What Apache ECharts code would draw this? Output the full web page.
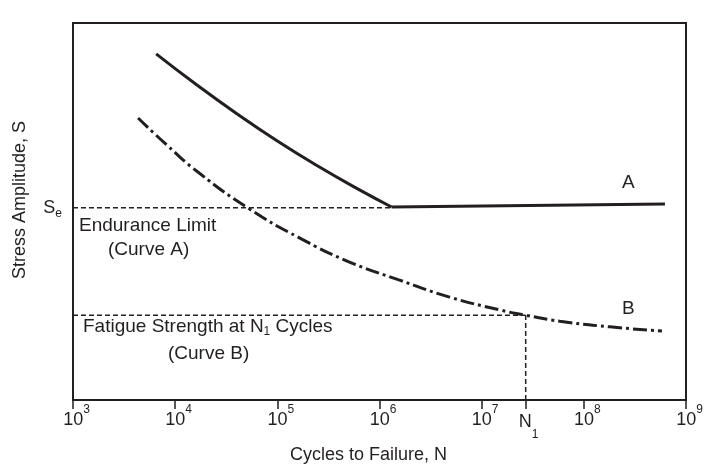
<!DOCTYPE html>
<html><head><meta charset="utf-8">
<script src="https://cdn.jsdelivr.net/npm/echarts@6/dist/echarts.min.js"></script>
<style>html,body{margin:0;padding:0;background:#fff}#c{width:705px;height:464px}</style>
</head><body><div id="c"></div>
<script>
// x values are log10(N), y values are stress amplitude on an arbitrary 0-100 scale
const xTickExponents = [3, 4, 5, 6, 7, 8, 9];
const N1_LOG = 7.431;
const SE_LEVEL = 51.0;
const FATIGUE_LEVEL = 22.5;

const curveA_logN = [3.814, 4.2, 4.6, 5.0, 5.4, 5.8, 6.118];
const curveA_S    = [91.8, 83.8, 76.0, 68.7, 62.0, 55.8, 51.2];
const curveAflat_logN = [6.118, 8.794];
const curveAflat_S    = [51.2, 52.0];

const curveB_logN = [3.637, 3.912, 4.235, 4.725, 5.216, 5.706, 6.196, 6.686, 7.176, 7.431, 7.765, 8.255, 8.765];
const curveB_S    = [74.8, 67.8, 60.2, 50.7, 43.0, 36.6, 31.8, 27.3, 23.9, 22.5, 20.9, 19.4, 18.3];

const INK = '#231f20';
const FONT = '"Liberation Sans", Arial, sans-serif';
const zip = (a, b) => a.map((v, i) => [v, b[i]]);

const chart = echarts.init(document.getElementById('c'), null, {renderer: 'canvas'});
const tickVals = xTickExponents.slice(0, 5).concat([N1_LOG], xTickExponents.slice(5));

chart.setOption({
  backgroundColor: '#ffffff',
  animation: false,
  textStyle: {fontFamily: FONT, color: INK},
  grid: {left: 73, right: 19, top: 23, bottom: 64, show: true, borderColor: INK, borderWidth: 2,
         backgroundColor: 'transparent', containLabel: false, outerBoundsMode: 'none'},
  xAxis: {
    type: 'value', min: 3, max: 9, interval: 1,
    name: 'Cycles to Failure, N', nameLocation: 'middle', nameGap: 46,
    nameTextStyle: {fontSize: 18, color: INK, fontFamily: FONT, padding: [0, 22, 0, 0]},
    axisLine: {show: true, lineStyle: {color: INK, width: 2}},
    axisTick: {show: true, length: 9, lineStyle: {color: INK, width: 1.5}, customValues: tickVals},
    splitLine: {show: false},
    axisLabel: {
      margin: 4, customValues: tickVals, color: INK, fontFamily: FONT,
      formatter: function (v) {
        if (Math.abs(v - N1_LOG) < 1e-6) return '{n|N}{nsub|1}';
        return '{b|10}{sup|' + Math.round(v) + '}';
      },
      rich: {
        b: {fontSize: 18, lineHeight: 32, fontFamily: FONT, color: INK, padding: [0, 0, 0, 7]},
        sup: {fontSize: 12, lineHeight: 12, verticalAlign: 'top', fontFamily: FONT, color: INK},
        n: {fontSize: 18, lineHeight: 37, fontFamily: FONT, color: INK, padding: [0, 0, 0, 6]},
        nsub: {fontSize: 12, lineHeight: 12, verticalAlign: 'bottom', fontFamily: FONT, color: INK}
      }
    }
  },
  yAxis: {
    type: 'value', min: 0, max: 100,
    name: 'Stress Amplitude, S', nameLocation: 'middle', nameGap: 44, nameRotate: 90,
    nameTextStyle: {fontSize: 18, color: INK, fontFamily: FONT, padding: [0, 0, 0, 23]},
    axisLine: {show: true, lineStyle: {color: INK, width: 2}},
    axisTick: {show: false},
    splitLine: {show: false},
    axisLabel: {
      margin: 11, customValues: [SE_LEVEL], color: INK,
      formatter: function () { return '{s|S}{e|e}'; },
      rich: {
        s: {fontSize: 18, lineHeight: 24, fontFamily: FONT, color: INK},
        e: {fontSize: 12, lineHeight: 12, verticalAlign: 'bottom', fontFamily: FONT, color: INK}
      }
    }
  },
  series: [
    {type: 'line', name: 'A', data: zip(curveA_logN, curveA_S), smooth: true, showSymbol: false, silent: true,
     lineStyle: {color: INK, width: 3}},
    {type: 'line', name: 'A flat', data: zip(curveAflat_logN, curveAflat_S), showSymbol: false, silent: true,
     lineStyle: {color: INK, width: 3}},
    {type: 'line', name: 'B', data: zip(curveB_logN, curveB_S), smooth: true, showSymbol: false, silent: true,
     lineStyle: {color: INK, width: 3, type: [14, 4, 3, 4]}},
    {type: 'line', name: 'Se', data: [[3, SE_LEVEL], [curveA_logN[curveA_logN.length - 1], SE_LEVEL]], showSymbol: false, silent: true,
     lineStyle: {color: INK, width: 1.5, type: [5, 3]}},
    {type: 'line', name: 'Fatigue', data: [[3, FATIGUE_LEVEL], [N1_LOG, FATIGUE_LEVEL]], showSymbol: false, silent: true,
     lineStyle: {color: INK, width: 1.5, type: [5, 3]}},
    {type: 'line', name: 'N1', data: [[N1_LOG, 0], [N1_LOG, FATIGUE_LEVEL]], showSymbol: false, silent: true,
     lineStyle: {color: INK, width: 1.5, type: [5, 3]}}
  ],
  graphic: [
    {type: 'text', left: 622, top: 173, style: {text: 'A', fontSize: 19, fontFamily: FONT, fill: INK}},
    {type: 'text', left: 622, top: 299, style: {text: 'B', fontSize: 19, fontFamily: FONT, fill: INK}},
    {type: 'text', left: 79, top: 216, style: {text: 'Endurance Limit', fontSize: 19, fontFamily: FONT, fill: INK}},
    {type: 'text', left: 108, top: 240, style: {text: '(Curve A)', fontSize: 19, fontFamily: FONT, fill: INK}},
    {type: 'text', left: 83, top: 317, style: {
      text: '{t|Fatigue Strength at N}{s|1}{t| Cycles}', fill: INK,
      rich: {t: {fontSize: 19, lineHeight: 22, fontFamily: FONT, fill: INK},
             s: {fontSize: 12, lineHeight: 12, verticalAlign: 'bottom', fontFamily: FONT, fill: INK}}}},
    {type: 'text', left: 168, top: 344, style: {text: '(Curve B)', fontSize: 19, fontFamily: FONT, fill: INK}}
  ]
});
</script>
</body></html>
